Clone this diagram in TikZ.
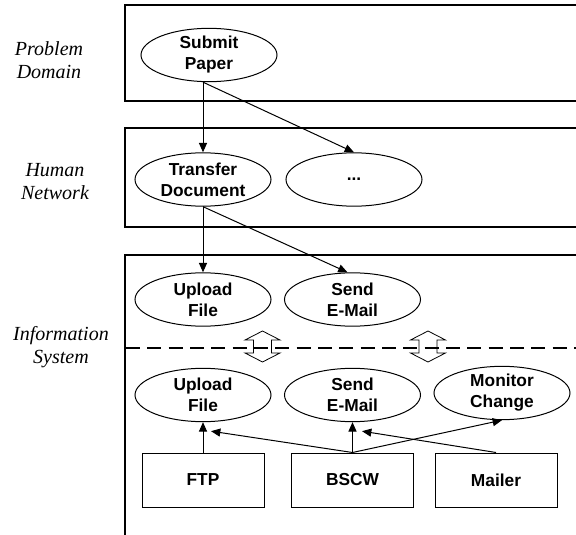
\documentclass[tikz,border=0pt]{standalone}
\usepackage{fontspec}
\setmainfont{Liberation Serif}
\setsansfont{Liberation Sans}
\usetikzlibrary{shapes,arrows.meta}

\begin{document}
\begin{tikzpicture}[x=0.75pt,y=-0.75pt,
        task/.style={ellipse,draw,line width=0.75pt,minimum width=102pt,minimum height=40pt,inner sep=0pt,align=center,font=\sffamily\bfseries\fontsize{13}{15.75}\selectfont},
        tool/.style={rectangle,draw,line width=0.75pt,minimum width=91.5pt,minimum height=40.5pt,font=\sffamily\bfseries\fontsize{13}{15.75}\selectfont},
        layer/.style={align=center,font=\itshape\fontsize{15}{17.3}\selectfont},
        frame/.style={draw,line width=0.9pt},
        link/.style={draw,line width=0.75pt,-{Triangle[length=7pt,width=6pt]}}]
        \useasboundingbox (0,0) rectangle (576,535);

        % Layer frames, open to the right
        \path[frame] (590,5) -| (125,101) -- (590,101);
        \path[frame] (590,128) -| (125,227) -- (590,227);
        \path[frame] (590,255) -| (125,545);

        % Line between the two halves of the information system
        \draw[line width=2.2pt, dash pattern=on 10.5pt off 5.5pt] (126,348) -- (580,348);

        % Layer names
        \node[layer] (domain) at (49,60) {Problem\\Domain};
        \node[layer] (human) at (55,181.5) {Human\\Network};
        \node[layer] (infosys) at (61,347.5) {Information\\System};

        % Problem domain and human network
        \node[task] (submit) at (209,55) {Submit\\Paper};
        \node[task] (transfer) at (203,179.5) {Transfer\\Document};
        \node[task] (dots) at (354,179.5) {...};

        % Information system, upper half
        \node[task] (upload) at (203,299.5) {Upload\\File};
        \node[task] (send) at (352.5,299.5) {Send\\E-Mail};

        % Information system, lower half
        \node[task] (uploadtool) at (203,395) {Upload\\File};
        \node[task] (sendtool) at (352.5,395) {Send\\E-Mail};
        \node[task] (monitor) at (502,393) {Monitor\\Change};
        \node[tool] (ftp) at (203,480) {FTP};
        \node[tool] (bscw) at (352.5,480) {BSCW};
        \node[tool] (mailer) at (496,480) {Mailer};

        % Arrows between the layers
        \coordinate (submitout) at (submit.south -| transfer.north);
        \coordinate (sendin) at ([shift={(-5,0)}]send.north);
        \path[link] (submitout) -- (transfer.north);
        \path[link] (submitout) -- (dots.north);
        \path[link] (transfer.south) -- (upload.north);
        \path[link] (transfer.south) -- (sendin);

        % Arrows from the tools
        \coordinate (uploadin) at ([shift={(8,9)}]uploadtool.south);
        \coordinate (sendtoolin) at ([shift={(9.5,9)}]sendtool.south);
        \path[link] (ftp.north) -- (uploadtool.south);
        \path[link] (bscw.north) -- (uploadin);
        \path[link] (bscw.north) -- (sendtool.south);
        \path[link] (bscw.north) -- (monitor.south);
        \path[link] (mailer.north) -- (sendtoolin);

        % Hollow double arrows across the dashed line
        \foreach \cx/\name in {262.5/uplink,428/sendlink} {
            \coordinate (\name) at (\cx,346.5);
            \draw[line width=0.6pt] ([shift={(0,-15.5)}]\name) -- ++(17.5,9) -- ++(-8.5,0) -- ++(0,13) -- ++(8.5,0)
                -- ++(-17.5,9) -- ++(-17.5,-9) -- ++(8.5,0) -- ++(0,-13) -- ++(-8.5,0) -- cycle;
        }
\end{tikzpicture}
\end{document}
